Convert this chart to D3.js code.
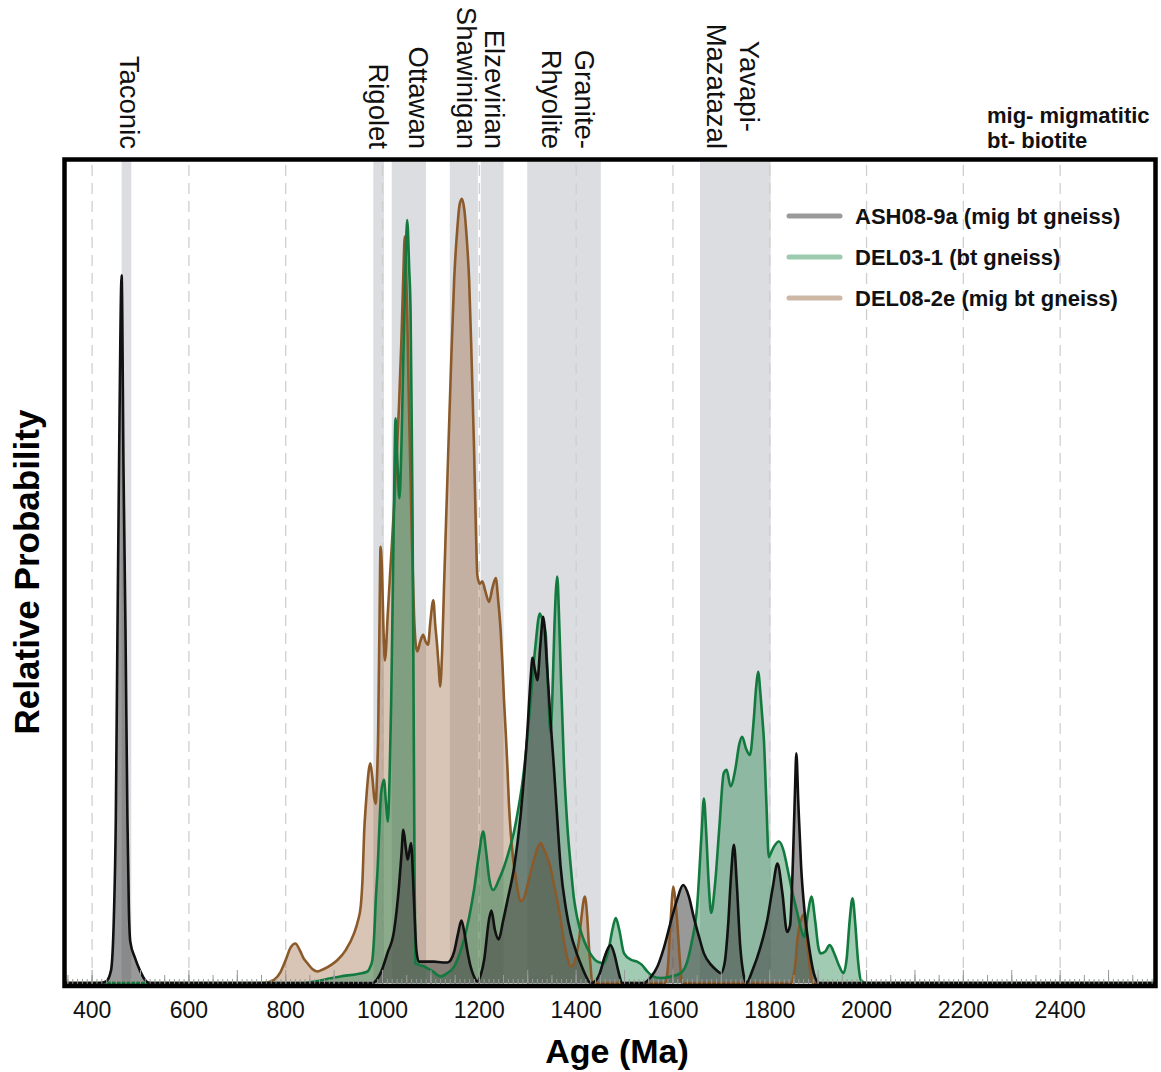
<!DOCTYPE html>
<html lang="en">
<head>
<meta charset="UTF-8">
<title>Relative probability of detrital zircon ages</title>
<style>
    body { margin: 0; padding: 0; background: #fff; }
    svg { display: block; font-family: "Liberation Sans", Arial, Helvetica, sans-serif; }
</style>
</head>
<body>
<div id="chart"></div>
<script src="https://cdn.jsdelivr.net/npm/d3@7"></script>
<script>
// orogenic events (age ranges, Ma)
const eventNames = ["Taconic", "Rigolet", "Ottawan", "Shawinigan", "Elzevirian", "Granite-\nRhyolite", "Yavapi-\nMazatazal"]
const eventStart = [462, 982, 1020, 1140, 1204, 1300, 1657]
const eventEnd = [482, 1004, 1091, 1198, 1251, 1452, 1803]
const eventLabelAge = [479, 993, 1076, 1175, 1233, 1385, 1726]

const xTickValues = [400, 600, 800, 1000, 1200, 1400, 1600, 1800, 2000, 2200, 2400]

const sampleNames = ["ASH08-9a (mig bt gneiss)", "DEL03-1 (bt gneiss)", "DEL08-2e (mig bt gneiss)"]
const notes = ["mig- migmatitic", "bt- biotite"]

// [age Ma, relative probability]
const ash08_9a = [[344, 0], [415, 0], [430, 0.2], [440, 1.5], [446, 8], [450, 20], [453, 40], [457, 65], [462, 86], [466, 62], [470, 43], [474, 20], [477, 9], [480, 5], [490, 3], [500, 1.5], [510, 0.4], [520, 0],
    [980, 0], [997, 1.2], [1011, 3.6], [1025, 6.4], [1035, 11.7], [1040, 15.5], [1044, 18.6], [1049, 16.5], [1053, 15], [1060, 17], [1066, 10], [1071, 4], [1076, 2.6], [1090, 2.6], [1107, 2.6], [1125, 2.5], [1135, 2.5], [1142, 2.8], [1149, 3.8], [1157, 6], [1164, 7.6], [1170, 6.2], [1176, 4], [1183, 2], [1190, 0.8], [1197, 0.2], [1204, 1], [1211, 2.8], [1221, 7.7], [1226, 8.8], [1233, 6.5], [1241, 5.3], [1250, 7.5], [1259, 10], [1273, 14.1], [1286, 20.2], [1300, 30.3], [1307, 37], [1311, 39.5], [1316, 38], [1321, 36.8], [1327, 41], [1333, 44.5], [1341, 38.4], [1348, 32], [1355, 26.3], [1362, 20], [1369, 14.1], [1380, 9], [1390, 6], [1400, 4], [1410, 2.4], [1420, 1], [1431, 0], [1440, 0.2], [1450, 1.2], [1460, 3.2], [1472, 4.6], [1480, 3.5], [1488, 1.5], [1496, 0],
    [1541, 0], [1555, 0.7], [1569, 2], [1582, 4.2], [1596, 7.3], [1610, 10.2], [1622, 11.9], [1634, 10.5], [1644, 8], [1655, 5.6], [1665, 3.6], [1680, 2.2], [1690, 1.6], [1700, 1.2], [1708, 2.5], [1715, 7], [1721, 13], [1727, 16.8], [1733, 12], [1740, 4.5], [1747, 1], [1753, 0], [1765, 1.5], [1782, 4.4], [1796, 7.7], [1807, 11.5], [1817, 14.5], [1827, 11], [1837, 6.2], [1843, 7], [1849, 15], [1853, 23], [1856, 27.9], [1860, 22], [1866, 14], [1872, 9.3], [1882, 4.5], [1892, 1.2], [1903, 0], [2598, 0]]

const del03_1 = [[344, 0], [840, 0], [852, 0.1], [880, 0.4], [914, 0.8], [950, 1.1], [970, 1.4], [976, 2], [980, 2.8], [984, 6], [987, 10], [991, 14], [994, 18.2], [998, 23], [1004, 24.7], [1008, 22], [1012, 19.6], [1016, 26], [1019, 34.4], [1024, 55], [1028, 68.6], [1032, 63], [1036, 58.9], [1040, 65], [1044, 76], [1048, 86], [1052, 92.7], [1056, 87], [1059, 81.4], [1061, 70], [1063, 57], [1065, 36.8], [1067, 15], [1069, 2.4], [1087, 2], [1105, 1.4], [1121, 0.8], [1135, 1.2], [1149, 2], [1160, 3.5], [1169, 5.2], [1180, 8], [1190, 11.3], [1200, 15.5], [1209, 18.4], [1215, 16], [1222, 12.5], [1230, 11.3], [1241, 12.5], [1252, 14.1], [1262, 16], [1272, 18.2], [1281, 21], [1290, 24.3], [1299, 29], [1307, 34.4], [1317, 41], [1326, 44.9], [1332, 44], [1338, 42.5], [1343, 36], [1348, 30.4], [1352, 35], [1356, 43], [1362, 49.4], [1366, 44], [1369, 38.4], [1376, 26.3], [1383, 19], [1390, 14.1], [1396, 10.5], [1403, 8], [1417, 5.2], [1430, 3.6], [1445, 2.6], [1458, 2.4], [1468, 4], [1476, 6.5], [1483, 7.9], [1490, 6.5], [1500, 3.6], [1515, 2.8], [1527, 2.6], [1537, 2.2], [1548, 1.4], [1560, 0.8], [1576, 0.6], [1597, 0.8], [1617, 1.2], [1630, 2.5], [1640, 5], [1651, 9.3], [1660, 18], [1665, 22.4], [1670, 18], [1675, 12], [1680, 8.5], [1688, 12], [1697, 19], [1706, 25.5], [1712, 25.9], [1720, 23.9], [1730, 26], [1738, 29], [1744, 29.9], [1752, 28.5], [1760, 27.7], [1768, 32], [1773, 36], [1777, 37.8], [1782, 35], [1786, 32], [1789, 29.5], [1794, 22], [1799, 15.3], [1805, 16], [1810, 16.6], [1820, 17.2], [1830, 16], [1837, 14.1], [1848, 11], [1858, 8.5], [1866, 6.5], [1872, 5.6], [1880, 8.5], [1887, 10.5], [1895, 7.5], [1901, 4.5], [1906, 3.6], [1915, 3.8], [1925, 4.6], [1935, 3.5], [1945, 2], [1953, 1.2], [1960, 3], [1966, 7.5], [1972, 10.3], [1978, 7], [1983, 3], [1989, 0.4], [2000, 0], [2598, 0]]

const del08_2e = [[344, 0], [750, 0], [765, 0.1], [777, 0.4], [790, 1.3], [801, 2.8], [811, 4.3], [821, 4.8], [830, 4], [838, 3], [846, 2.4], [856, 1.7], [866, 1.4], [880, 1.7], [895, 2.2], [908, 2.8], [925, 4], [942, 6], [950, 7.5], [956, 9.3], [960, 13], [963, 18.2], [967, 22], [970, 24.3], [973, 26], [976, 26.7], [980, 25], [984, 22.5], [987, 21.8], [989, 24], [992, 30.3], [995, 45], [997, 53], [1000, 50], [1003, 43], [1006, 39.2], [1012, 45], [1018, 51], [1025, 58], [1030, 64], [1035, 70], [1040, 78], [1044, 86], [1047, 90.7], [1050, 86], [1052, 81.4], [1055, 72], [1059, 61.1], [1062, 53], [1066, 44.9], [1070, 41], [1073, 40.3], [1079, 41.5], [1085, 42.3], [1090, 41.5], [1095, 41.1], [1100, 44], [1106, 46.5], [1110, 43.5], [1114, 40.9], [1117, 38.5], [1120, 36], [1124, 40], [1128, 48], [1135, 61.1], [1142, 74], [1149, 85.4], [1156, 92], [1160, 94.5], [1165, 95.3], [1170, 94], [1175, 90.5], [1180, 85.4], [1185, 76], [1190, 65.2], [1194, 55], [1197, 49.5], [1202, 48.5], [1207, 48.8], [1214, 47.5], [1221, 46.3], [1228, 48], [1235, 49.2], [1240, 46.5], [1245, 42.9], [1249, 38.5], [1252, 34.4], [1256, 30], [1259, 26.3], [1262, 22], [1266, 18.2], [1271, 15], [1276, 12.9], [1281, 11], [1286, 9.9], [1293, 10.3], [1303, 12.5], [1315, 15.2], [1322, 16.5], [1328, 17], [1334, 16.3], [1341, 15.3], [1348, 14.1], [1355, 12], [1362, 10], [1369, 7.7], [1376, 5], [1383, 3], [1390, 2], [1397, 2.4], [1402, 3.5], [1407, 5.2], [1412, 8], [1419, 10.5], [1424, 8], [1428, 4], [1431, 2], [1434, 0],
    [1585, 0], [1590, 1.5], [1596, 7.3], [1602, 11.7], [1606, 10], [1610, 7.3], [1615, 3], [1620, 0],
    [1845, 0], [1850, 0.8], [1855, 3], [1858, 5.2], [1865, 7.5], [1870, 8.3], [1874, 7.5], [1878, 5], [1882, 2.8], [1886, 1], [1890, 0], [2598, 0]]

const w = 1161
const h = 1072
const frame = { left: 64.5, right: 1155.5, top: 159.5, bottom: 986 }

const svg = d3.select("#chart").append("svg")
    .attr("width", w)
    .attr("height", h)

svg.append("rect").attr("width", w).attr("height", h).attr("fill", "#fff")

const x = d3.scaleLinear().domain([344, 2598]).range([frame.left, frame.right])
const y = d3.scaleLinear().domain([0, 100]).range([983, 160])

svg.append("clipPath").attr("id", "plot-clip")
    .append("rect")
    .attr("x", frame.left).attr("y", frame.top)
    .attr("width", frame.right - frame.left).attr("height", frame.bottom - frame.top)

const plot = svg.append("g").attr("clip-path", "url(#plot-clip)")

// event bands
plot.selectAll(".band")
    .data(eventNames)
    .enter()
    .append("rect")
    .attr("class", "band")
    .attr("x", (d, i) => x(eventStart[i]))
    .attr("width", (d, i) => x(eventEnd[i]) - x(eventStart[i]))
    .attr("y", frame.top)
    .attr("height", frame.bottom - frame.top)
    .attr("fill", "#dcdde0")

// dashed grid lines
const grid = plot.append("g")
    .attr("transform", "translate(0," + frame.bottom + ")")
    .call(d3.axisBottom(x).tickValues(xTickValues).tickSize(-(frame.bottom - frame.top)).tickFormat(""))
grid.select(".domain").remove()
grid.selectAll("line")
    .attr("stroke", "#cfcfcf")
    .attr("stroke-width", 1.3)
    .attr("stroke-dasharray", "11,7")

const series = [
    { data: del08_2e, fill: "rgb(160,110,70)", opacity: 0.4, stroke: "#8b5a2b", legend: "#cdb8a6" },
    { data: del03_1, fill: "rgb(46,139,87)", opacity: 0.45, stroke: "#137a3f", legend: "#9ccbb0" },
    { data: ash08_9a, fill: "rgb(70,70,70)", opacity: 0.55, stroke: "#111", legend: "#9a9a9a" }
]

const area = d3.area()
    .x(d => x(d[0]))
    .y0(y(0))
    .y1(d => y(d[1]))
    .curve(d3.curveMonotoneX)

const line = d3.line()
    .x(d => x(d[0]))
    .y(d => y(d[1]))
    .curve(d3.curveMonotoneX)

series.forEach(s => {
    plot.append("path")
        .attr("d", area(s.data))
        .attr("fill", s.fill)
        .attr("fill-opacity", s.opacity)
})
series.forEach(s => {
    plot.append("path")
        .attr("d", line(s.data))
        .attr("fill", "none")
        .attr("stroke", s.stroke)
        .attr("stroke-width", 2.6)
        .attr("stroke-linejoin", "round")
})

// minor ticks along the bottom (10, 50, 100 Ma)
const tickSets = [[d3.range(350, 2600, 10), 5], [d3.range(350, 2600, 50), 9], [d3.range(400, 2600, 100), 14]]
tickSets.forEach(t => {
    const g = plot.append("g")
        .attr("transform", "translate(0," + (frame.bottom - 2) + ")")
        .call(d3.axisTop(x).tickValues(t[0]).tickSize(t[1]).tickFormat(""))
    g.select(".domain").remove()
    g.selectAll("line").attr("stroke", "#999").attr("stroke-width", 1)
})

// frame
svg.append("rect")
    .attr("x", frame.left).attr("y", frame.top)
    .attr("width", frame.right - frame.left).attr("height", frame.bottom - frame.top)
    .attr("fill", "none")
    .attr("stroke", "#000")
    .attr("stroke-width", 4.5)

// x axis labels
const xAxis = svg.append("g")
    .attr("transform", "translate(0," + frame.bottom + ")")
    .call(d3.axisBottom(x).tickValues(xTickValues).tickSize(0).tickPadding(16).tickFormat(d3.format("d")))
xAxis.select(".domain").remove()
xAxis.selectAll("text")
    .attr("font-size", 23)
    .attr("font-family", "'Liberation Sans', Arial, sans-serif")
    .attr("fill", "#111")

svg.append("text")
    .attr("x", 617).attr("y", 1063)
    .attr("text-anchor", "middle")
    .attr("font-size", 34).attr("font-weight", "bold")
    .text("Age (Ma)")

svg.append("text")
    .attr("transform", "translate(27,572) rotate(-90)")
    .attr("text-anchor", "middle")
    .attr("dy", "0.35em")
    .attr("font-size", 35).attr("font-weight", "bold")
    .text("Relative Probability")

// event labels, rotated
const labelEnd = 149
eventNames.forEach((name, i) => {
    const lines = name.split("\n")
    const g = svg.append("g")
        .attr("transform", "translate(" + x(eventLabelAge[i]) + "," + labelEnd + ") rotate(90)")
    const texts = lines.map((ln, j) => g.append("text")
        .attr("x", 0)
        .attr("y", (j - (lines.length - 1) / 2) * 33)
        .attr("dy", "0.36em")
        .attr("text-anchor", "end")
        .attr("font-size", 27.5)
        .attr("fill", "#111")
        .text(ln))
    if (lines.length > 1) {
        const maxLen = d3.max(texts, t => t.node().getComputedTextLength())
        texts.forEach(t => t.attr("text-anchor", "middle").attr("x", -maxLen / 2))
    }
})

// legend
const legend = svg.append("g")
sampleNames.forEach((name, i) => {
    const ly = 216 + i * 41
    legend.append("line")
        .attr("x1", 789).attr("x2", 840)
        .attr("y1", ly).attr("y2", ly)
        .attr("stroke", series[2 - i].legend)
        .attr("stroke-width", 5)
        .attr("stroke-linecap", "round")
    legend.append("text")
        .attr("x", 855).attr("y", ly + 7.5)
        .attr("font-size", 22).attr("font-weight", "bold")
        .attr("fill", "#111")
        .text(name)
})

notes.forEach((n, i) => {
    svg.append("text")
        .attr("x", 987).attr("y", 123 + i * 25)
        .attr("font-size", 22).attr("font-weight", "bold")
        .attr("fill", "#111")
        .text(n)
})
</script>
</body>
</html>
